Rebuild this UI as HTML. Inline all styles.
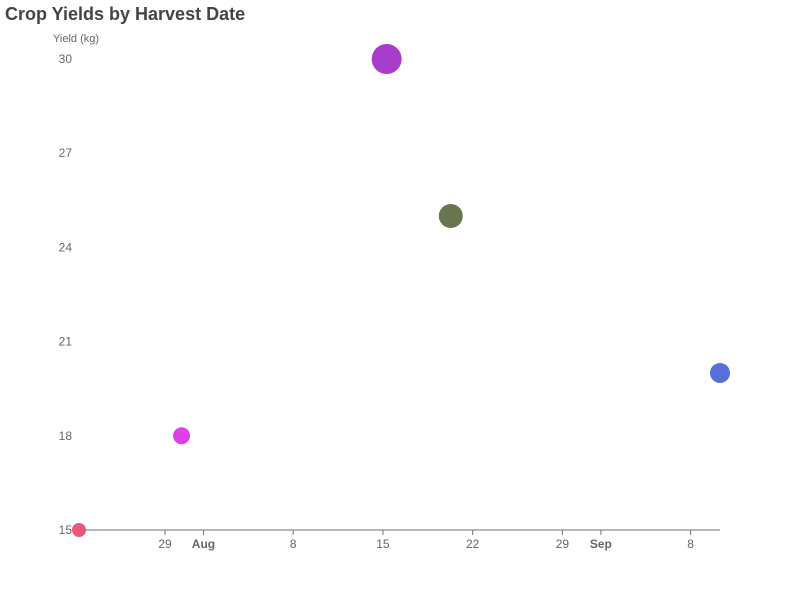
<!DOCTYPE html>
<html><head><meta charset="utf-8"><style>
body{margin:0;background:#fff;}
svg{font-family:"Liberation Sans",sans-serif;}
</style></head><body>
<svg id="chart" width="800" height="600" xmlns="http://www.w3.org/2000/svg">
<text x="5" y="20" font-size="18" font-weight="bold" fill="#444">Crop Yields by Harvest Date</text>
<text x="53" y="42" font-size="11" fill="#666">Yield (kg)</text>
<g id="axes"></g><g id="points"></g>
</svg>
<script>
const dates = ["2024-07-22T07:00","2024-07-30T07:00","2024-08-15T07:00","2024-08-20T07:00","2024-09-10T07:00"];
const yields = [15, 18, 30, 25, 20];
const sizes = [7, 8.5, 15, 12, 10];
const colors = ["#e8587a","#e03ee6","#aa3ccc","#66774f","#5a6fd9"];
const yTicks = [15, 18, 21, 24, 27, 30];
const xTickDates = ["2024-07-29","2024-08-01","2024-08-08","2024-08-15","2024-08-22","2024-08-29","2024-09-01","2024-09-08"];
const xTickLabels = ["29","Aug","8","15","22","29","Sep","8"];
const NS="http://www.w3.org/2000/svg";
const ts=d=>new Date(d).getTime();
const t0=Math.min(...dates.map(ts)), t1=Math.max(...dates.map(ts));
const x=t=>79+(ts(t)-t0)/(t1-t0)*641;
const y=v=>530-(v-15)/15*471;
function mk(tag,attrs,parent){const e=document.createElementNS(NS,tag);for(const k in attrs)e.setAttribute(k,attrs[k]);parent.appendChild(e);return e;}
const ax=document.getElementById('axes');
const line=mk('line',{x1:79,x2:720,y1:530,y2:530,stroke:'#6e6e80','stroke-width':1},ax);


yTicks.forEach(v=>{const t=mk('text',{x:72,y:y(v)+4,'text-anchor':'end','font-size':12,fill:'#666'},ax);t.textContent=v;

});
xTickDates.forEach((d,i)=>{const xx=x(d+"T00:00");
const tk=mk('line',{x1:xx,x2:xx,y1:530,y2:535,stroke:'#6e6e80'},ax);


const bold=isNaN(+xTickLabels[i]);
const t=mk('text',{x:xx,y:548,'text-anchor':'middle','font-size':12,fill:'#666','font-weight':bold?'bold':'normal'},ax);t.textContent=xTickLabels[i];

});
const pg=document.getElementById('points');
dates.forEach((d,i)=>{const c=mk('circle',{cx:x(d),cy:y(yields[i]),r:sizes[i],fill:colors[i]},pg);

});
</script>
</body></html>
